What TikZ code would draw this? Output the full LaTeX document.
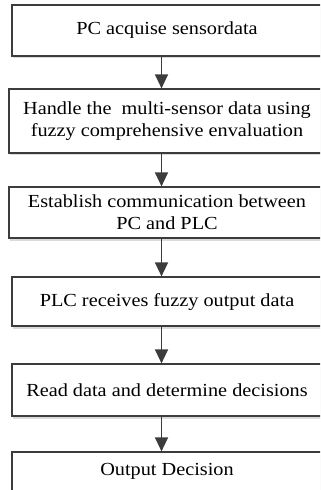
\documentclass[tikz,border=0pt]{standalone}
\usepackage{fontspec}
\setmainfont{Liberation Serif}[FakeStretch=1.1]
\usetikzlibrary{arrows.meta,shadows}
\definecolor{ln}{HTML}{3C3C3C}
\tikzset{
  lbl/.style={font=\fontsize{18.5}{21.7}\selectfont},
  box/.style={draw=ln, line width=1.2bp, fill=white, inner sep=0pt, align=center, lbl,
    drop shadow={shadow xshift=1.5bp, shadow yshift=-2.5bp, fill=black!14, opacity=1}},
  arr/.style={draw=ln, line width=1.3bp, -{Triangle[width=13bp,length=14bp]}}
}
\begin{document}
\begin{tikzpicture}[x=1bp,y=-1bp]
\clip (0,0) rectangle (320,490);
\fill[white] (0,0) rectangle (320,490);
\node[box, minimum width=310bp, minimum height=51bp] (b1) at (167,30.5) {PC acquise sensordata};
\node[box, minimum width=316bp, minimum height=64bp] (b2) at (167,121) {Handle the\ \ multi-sensor data using\\fuzzy comprehensive envaluation};
\node[box, minimum width=316bp, minimum height=51bp] (b3) at (167,212.5) {Establish communication between\\PC and PLC};
\node[box, minimum width=310bp, minimum height=49bp] (b4) at (167,301.5) {PLC receives fuzzy output data};
\node[box, minimum width=310bp, minimum height=52bp] (b5) at (167,390) {Read data and determine decisions};
\node[box, minimum width=310bp, minimum height=50bp] (b6) at (167,477) {};
\node[lbl] (t6) at (167,471) {Output Decision};
\coordinate (ax) at (161.5,0);
\draw[arr] (b1.south -| ax) -- (b2.north -| ax);
\draw[arr] (b2.south -| ax) -- (b3.north -| ax);
\draw[arr] (b3.south -| ax) -- (b4.north -| ax);
\draw[arr] (b4.south -| ax) -- (b5.north -| ax);
\draw[arr] (b5.south -| ax) -- (b6.north -| ax);
\end{tikzpicture}
\end{document}
